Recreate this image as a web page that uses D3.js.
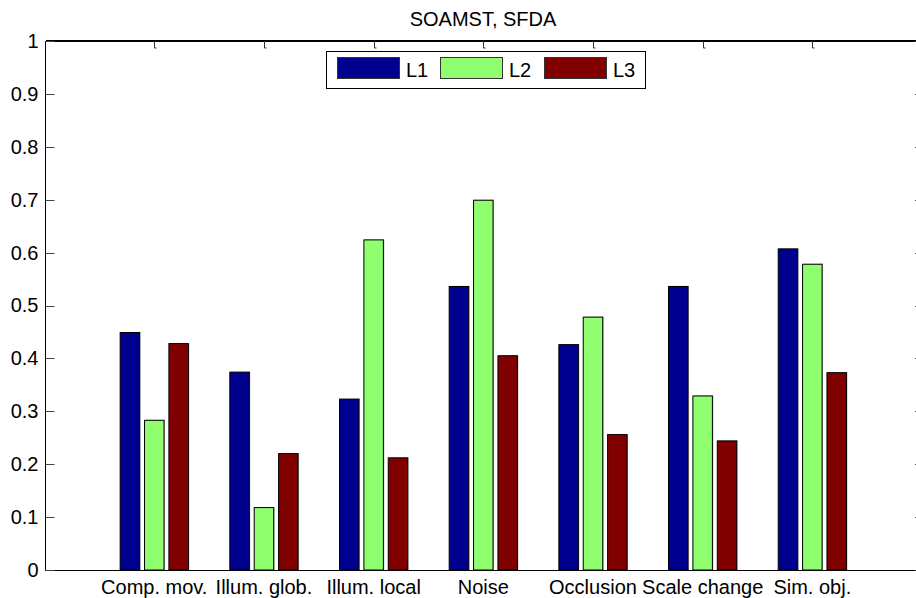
<!DOCTYPE html>
<html>
<head>
<meta charset="utf-8">
<script src="https://cdn.jsdelivr.net/npm/d3@7/dist/d3.min.js"></script>
<style>
  html, body { margin: 0; padding: 0; background: #fff; }
  svg { display: block; font-family: "Liberation Sans", Arial, sans-serif; }
</style>
</head>
<body>
<svg id="chart" width="916" height="598"></svg>
<script>
// Categories and the three series
const categories = ["Comp. mov.", "Illum. glob.", "Illum. local", "Noise", "Occlusion", "Scale change", "Sim. obj."];
const seriesNames = ["L1", "L2", "L3"];
const L1 = [0.449, 0.374, 0.323, 0.536, 0.426, 0.536, 0.607];
const L2 = [0.283, 0.118, 0.624, 0.699, 0.478, 0.329, 0.578];
const L3 = [0.428, 0.220, 0.212, 0.405, 0.256, 0.244, 0.373];
const yTicks = [0, 0.1, 0.2, 0.3, 0.4, 0.5, 0.6, 0.7, 0.8, 0.9, 1];
const colors = ["#00008f", "#8fff70", "#800000"];
const title = "SOAMST, SFDA";

const series = [L1, L2, L3];
const svg = d3.select("#chart");
const FS = 20;

const plotL = 44.6, plotR = 922, plotT = 41, plotB = 570;
const axL = 45.5, axR = 924;
const x = d3.scaleLinear().domain([0, categories.length + 1]).range([plotL, plotR]);
const y = d3.scaleLinear().domain([0, 1]).range([plotB, plotT]);

// grouped bar layout: group width 2/3 of a slot, bars 80% of their sub-slot
const groupW = Math.min(0.8, series.length / (series.length + 1.5));
const sub = groupW / series.length;
const barW = sub * 0.8;

// bars
series.forEach((vals, s) => {
  const off = -groupW / 2 + sub * (s + 0.5);
  const g = svg.append("g");
  g.selectAll("rect.shadow")
    .data(vals)
    .join("rect")
    .attr("class", "shadow")
    .attr("x", (d, i) => x(i + 1 + off - barW / 2) + 1)
    .attr("y", d => y(d) - 0.5)
    .attr("width", x(barW) - x(0))
    .attr("height", d => y(0) - y(d) + 0.5)
    .attr("fill", "#b8b8b8");
  g.selectAll("rect.bar")
    .data(vals)
    .join("rect")
    .attr("class", "bar")
    .attr("x", (d, i) => x(i + 1 + off - barW / 2))
    .attr("y", d => y(d))
    .attr("width", x(barW) - x(0))
    .attr("height", d => y(0) - y(d))
    .attr("fill", colors[s])
    .attr("stroke", "#000")
    .attr("stroke-width", 1);
});

// axes box
const axisG = svg.append("g").attr("shape-rendering", "crispEdges");
axisG.append("line").attr("x1", axL).attr("x2", axR).attr("y1", plotB + 0.5).attr("y2", plotB + 0.5).attr("stroke", "#000").attr("stroke-width", 1.5);
axisG.append("line").attr("x1", axL).attr("x2", axR).attr("y1", plotT).attr("y2", plotT).attr("stroke", "#000").attr("stroke-width", 1.5);
axisG.append("line").attr("x1", axL).attr("x2", axL).attr("y1", plotT).attr("y2", plotB + 1).attr("stroke", "#000").attr("stroke-width", 1.5);
axisG.append("line").attr("x1", axR).attr("x2", axR).attr("y1", plotT).attr("y2", plotB + 1).attr("stroke", "#000").attr("stroke-width", 1.5);

// y ticks (inward on both sides) and labels
const yAxis = d3.axisLeft(y).tickValues(yTicks).tickSize(0).tickPadding(7).tickFormat(d3.format("~g"));
const yg = svg.append("g").attr("transform", `translate(${axL},0)`).call(yAxis);
yg.select(".domain").remove();
yg.selectAll("text").attr("font-size", FS).attr("fill", "#000").attr("font-family", "Liberation Sans, Arial, sans-serif");
svg.append("g").selectAll("line")
  .data(yTicks)
  .join("line")
  .attr("x1", axL).attr("x2", axL + 9)
  .attr("y1", d => Math.round(y(d)) + 0.5).attr("y2", d => Math.round(y(d)) + 0.5)
  .attr("stroke", "#444").attr("stroke-width", 1);
svg.append("g").selectAll("line")
  .data(yTicks)
  .join("line")
  .attr("x1", axR - 9).attr("x2", axR)
  .attr("y1", d => Math.round(y(d)) + 0.5).attr("y2", d => Math.round(y(d)) + 0.5)
  .attr("stroke", "#444").attr("stroke-width", 1);

// x ticks along top edge
svg.append("g").selectAll("path")
  .data(categories)
  .join("path")
  .attr("d", (d, i) => {
    const px = Math.round(x(i + 1)) + 0.5;
    return `M${px},${plotT} V${plotT + 7} H${px + 2}`;
  })
  .attr("fill", "none").attr("stroke", "#333").attr("stroke-width", 1);

// category labels
svg.append("g").selectAll("text")
  .data(categories)
  .join("text")
  .attr("x", (d, i) => x(i + 1))
  .attr("y", 594)
  .attr("text-anchor", "middle")
  .attr("font-size", FS)
  .attr("fill", "#000")
  .text(d => d);

// title
svg.append("text")
  .attr("x", 483)
  .attr("y", 26)
  .attr("text-anchor", "middle")
  .attr("font-size", FS)
  .attr("fill", "#000")
  .text(title);

// legend
const leg = svg.append("g");
leg.append("rect")
  .attr("x", 326.5).attr("y", 51.5).attr("width", 319).attr("height", 37)
  .attr("fill", "#fff").attr("stroke", "#000").attr("stroke-width", 1);
const legX = [337, 440, 544];
seriesNames.forEach((name, s) => {
  leg.append("rect")
    .attr("x", legX[s] + 0.5).attr("y", 57.5).attr("width", 62).attr("height", 21)
    .attr("fill", colors[s]).attr("stroke", "#333").attr("stroke-width", 1);
  leg.append("text")
    .attr("x", legX[s] + 69).attr("y", 77)
    .attr("font-size", FS).attr("fill", "#000")
    .text(name);
});
</script>
</body>
</html>
